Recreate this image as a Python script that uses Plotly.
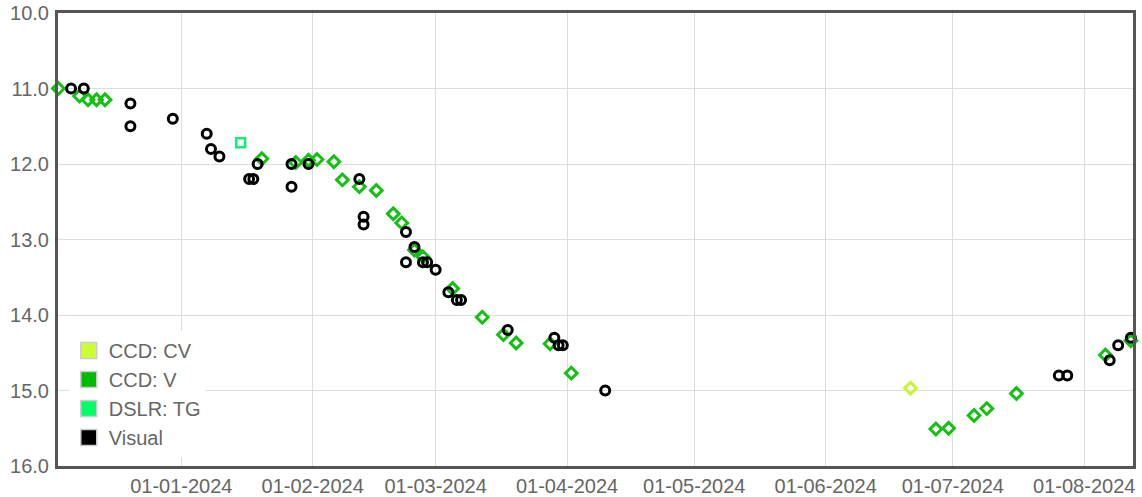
import plotly.graph_objects as go

# ---- data ----
visual_dates = [
    "2023-12-06", "2023-12-09", "2023-12-20", "2023-12-20", "2023-12-30",
    "2024-01-07", "2024-01-08", "2024-01-10", "2024-01-17", "2024-01-18",
    "2024-01-19", "2024-01-27", "2024-01-27", "2024-01-31", "2024-02-12",
    "2024-02-13", "2024-02-13", "2024-02-23", "2024-02-23", "2024-02-25",
    "2024-02-27", "2024-02-28", "2024-03-01", "2024-03-04", "2024-03-06",
    "2024-03-07", "2024-03-18", "2024-03-29", "2024-03-30", "2024-03-31",
    "2024-04-10", "2024-07-26", "2024-07-28", "2024-08-07", "2024-08-09",
    "2024-08-12",
]
visual_mags = [
    11.0, 11.0, 11.2, 11.5, 11.4,
    11.6, 11.8, 11.9, 12.2, 12.2,
    12.0, 12.0, 12.3, 12.0, 12.2,
    12.7, 12.8, 12.9, 13.3, 13.1,
    13.3, 13.3, 13.4, 13.7, 13.8,
    13.8, 14.2, 14.3, 14.4, 14.4,
    15.0, 14.8, 14.8, 14.6, 14.4,
    14.3,
]

ccdv_dates = [
    "2023-12-03", "2023-12-08", "2023-12-10", "2023-12-12", "2023-12-14",
    "2024-01-20", "2024-01-28", "2024-01-31", "2024-02-02", "2024-02-06",
    "2024-02-08", "2024-02-12", "2024-02-16", "2024-02-20", "2024-02-22",
    "2024-02-25", "2024-02-27", "2024-03-05", "2024-03-12", "2024-03-17",
    "2024-03-20", "2024-03-28", "2024-04-02", "2024-06-27", "2024-06-30",
    "2024-07-06", "2024-07-09", "2024-07-16", "2024-08-06", "2024-08-12",
]
ccdv_mags = [
    11.0, 11.1, 11.15, 11.15, 11.15,
    11.93, 11.98, 11.95, 11.94, 11.97,
    12.21, 12.3, 12.35, 12.66, 12.78,
    13.14, 13.23, 13.65, 14.03, 14.26,
    14.37, 14.38, 14.77, 15.51, 15.5,
    15.33, 15.24, 15.04, 14.53, 14.34,
]

ccdcv_dates = ["2024-06-21"]
ccdcv_mags = [14.97]

dslr_dates = ["2024-01-15"]
dslr_mags = [11.72]

series_names = ["CCD: CV", "CCD: V", "DSLR: TG", "Visual"]
series_colors = ["#ccff33", "#00bb00", "#00ff66", "#000000"]

x_range = ["2023-12-02 22:00", "2024-08-12 12:00"]
y_range = [16, 10]

# ---- figure ----
fig = go.Figure()

fig.add_trace(go.Scatter(
    x=ccdcv_dates, y=ccdcv_mags, mode="markers", name=series_names[0],
    showlegend=False, cliponaxis=False,
    marker=dict(symbol="diamond-open", size=9, color="#c8f532",
                line=dict(width=3, color="#c8f532")),
))
fig.add_trace(go.Scatter(
    x=ccdv_dates, y=ccdv_mags, mode="markers", name=series_names[1],
    showlegend=False, cliponaxis=False,
    marker=dict(symbol="diamond-open", size=9, color="#14c014",
                line=dict(width=3, color="#14c014")),
))
fig.add_trace(go.Scatter(
    x=dslr_dates, y=dslr_mags, mode="markers", name=series_names[2],
    showlegend=False, cliponaxis=False,
    marker=dict(symbol="square-open", size=9, color="#10f070",
                line=dict(width=2.5, color="#10f070")),
))
fig.add_trace(go.Scatter(
    x=visual_dates, y=visual_mags, mode="markers", name=series_names[3],
    showlegend=False, cliponaxis=False,
    marker=dict(symbol="circle-open", size=9, color="#000000",
                line=dict(width=3, color="#000000")),
))

# legend swatches
for name, col in zip(series_names, series_colors):
    fig.add_trace(go.Scatter(
        x=[None], y=[None], mode="markers", name=name, showlegend=True,
        marker=dict(symbol="square", size=22, color=col,
                    line=dict(width=1.5, color="#cccccc")),
    ))

axis_font = dict(family="Liberation Sans, Arial, sans-serif", size=20, color="#666666")

fig.update_layout(
    width=1142, height=497,
    margin=dict(l=58, r=9, t=13, b=31),
    paper_bgcolor="white", plot_bgcolor="white",
    showlegend=True,
    legend=dict(
        x=0.01, y=0.02, xanchor="left", yanchor="bottom",
        bgcolor="rgba(255,255,255,1)", borderwidth=0,
        font=dict(family="Liberation Sans, Arial, sans-serif", size=20, color="#666666"),
        itemsizing="trace", tracegroupgap=0,
    ),
    xaxis=dict(
        type="date", range=x_range, tick0="2024-01-01", dtick="M1",
        tickformat="%d-%m-%Y", showgrid=True, gridcolor="#dddddd", gridwidth=1,
        showline=True, linecolor="#555555", linewidth=3, mirror=True,
        ticks="", ticklabelstandoff=0, tickfont=axis_font, zeroline=False,
        automargin=False,
    ),
    yaxis=dict(
        range=y_range, dtick=1, tick0=10, tickformat=".1f",
        showgrid=True, gridcolor="#dddddd", gridwidth=1,
        showline=True, linecolor="#555555", linewidth=3, mirror=True,
        ticks="", ticklabelstandoff=2, tickfont=axis_font, zeroline=False,
        automargin=False,
    ),
)

fig.write_html("out.html")
